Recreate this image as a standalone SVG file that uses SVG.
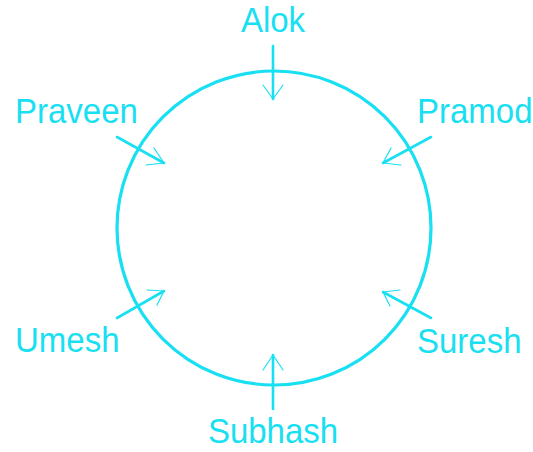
<svg xmlns="http://www.w3.org/2000/svg" width="533" height="452" viewBox="0 0 533 452">
<style>
.lbl{font-family:"Liberation Sans",Arial,sans-serif;font-size:33px;fill:#18e0f2}
.ring{fill:none;stroke:#18e0f2;stroke-width:3.2}
.shaft{stroke:#18e0f2;stroke-width:2.6;fill:none;stroke-linecap:round}
.head{stroke:#18e0f2;stroke-width:1.2;fill:none;stroke-linecap:round;stroke-linejoin:round}
</style>
<rect width="533" height="452" fill="#fff"/>
<g id="table"><circle class="ring" cx="274" cy="228" r="157"/></g>
<g id="connectors">
<line class="shaft" x1="273" y1="46" x2="273" y2="99"/>
<polyline class="head" points="263,85 273,99 283,85"/>
<line class="shaft" x1="117" y1="137" x2="164" y2="163"/>
<polyline class="head" points="154,148 164,163 146,165"/>
<line class="shaft" x1="431" y1="137" x2="383" y2="163"/>
<polyline class="head" points="391,148 383,163 401,165"/>
<line class="shaft" x1="117" y1="318" x2="164" y2="291"/>
<polyline class="head" points="147,290 164,291 157,305"/>
<line class="shaft" x1="431" y1="318" x2="383" y2="292"/>
<polyline class="head" points="400,290 383,292 390,306"/>
<line class="shaft" x1="273" y1="409" x2="273" y2="355"/>
<polyline class="head" points="263,370 273,355 283,370"/>
</g>
<g id="alok"><text class="lbl" transform="translate(273,32) scale(1,1.08)" text-anchor="middle">Alok</text></g>
<g id="praveen"><text class="lbl" transform="translate(15,123) scale(1,1.08)">Praveen</text></g>
<g id="pramod"><text class="lbl" transform="translate(417,123) scale(1,1.08)">Pramod</text></g>
<g id="umesh"><text class="lbl" transform="translate(15,352) scale(1,1.08)">Umesh</text></g>
<g id="suresh"><text class="lbl" transform="translate(417,353) scale(1,1.08)">Suresh</text></g>
<g id="subhash"><text class="lbl" transform="translate(273,443) scale(1,1.08)" text-anchor="middle">Subhash</text></g>
</svg>
